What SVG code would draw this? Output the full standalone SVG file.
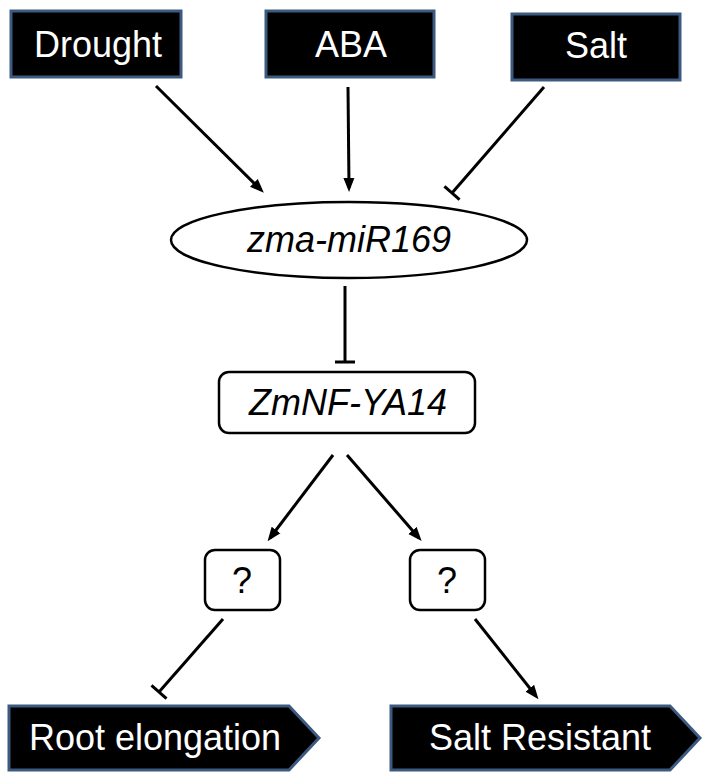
<svg xmlns="http://www.w3.org/2000/svg" width="707" height="780" viewBox="0 0 707 780">
<style>
.dark{fill:#000;stroke:#3c5a80;stroke-width:3}
.light{fill:#fff;stroke:#000;stroke-width:2.5}
.wt{fill:#fff;font-family:"Liberation Sans",Arial,sans-serif;font-size:36px;text-anchor:middle}
.bt{fill:#000;font-family:"Liberation Sans",Arial,sans-serif;font-size:36px;text-anchor:middle}
.it{font-style:italic}
.conn{stroke:#000;stroke-width:3;fill:none}
</style>
<defs>
<marker id="arrow" markerUnits="userSpaceOnUse" viewBox="0 0 14 12" markerWidth="14" markerHeight="12" refX="10" refY="6" orient="auto">
<path d="M0,0.5 L14,6 L0,11.5 z" fill="#000"/>
</marker>
<marker id="tbar" markerUnits="userSpaceOnUse" viewBox="-3 -11 6 22" markerWidth="6" markerHeight="22" refX="0" refY="0" orient="auto">
<rect x="-1.5" y="-10" width="3" height="20" fill="#000"/>
</marker>
</defs>
<g id="drought"><rect class="dark" x="11" y="11" width="170" height="66"/><text class="wt" x="98" y="57">Drought</text></g>
<g id="aba"><rect class="dark" x="266" y="11" width="168" height="66"/><text class="wt" x="351" y="57">ABA</text></g>
<g id="salt"><rect class="dark" x="512" y="14" width="168" height="66"/><text class="wt" x="596" y="58">Salt</text></g>
<g id="mir169"><ellipse class="light" cx="349" cy="240" rx="178" ry="38"/><text class="bt it" x="349" y="252">zma-miR169</text></g>
<g id="zmnf"><rect class="light" x="219" y="372" width="256" height="61" rx="10"/><text class="bt it" x="348" y="415">ZmNF-YA14</text></g>
<g id="q1"><rect class="light" x="205" y="550" width="75" height="60" rx="10"/><text class="bt" x="242" y="593">?</text></g>
<g id="q2"><rect class="light" x="410" y="550" width="75" height="60" rx="10"/><text class="bt" x="447" y="593">?</text></g>
<g id="root"><path class="dark" d="M9,706 L289,706 L319,738 L289,770 L9,770 z"/><text class="wt" x="155" y="750">Root elongation</text></g>
<g id="saltres"><path class="dark" d="M391,706 L670,706 L700,738 L670,770 L391,770 z"/><text class="wt" x="540" y="750">Salt Resistant</text></g>
<g id="connectors">
<line class="conn" x1="156" y1="86" x2="261" y2="190" marker-end="url(#arrow)"/>
<line class="conn" x1="348" y1="87" x2="349" y2="188" marker-end="url(#arrow)"/>
<line class="conn" x1="544" y1="87" x2="452" y2="193" marker-end="url(#tbar)"/>
<line class="conn" x1="345" y1="286" x2="345" y2="362" marker-end="url(#tbar)"/>
<line class="conn" x1="333" y1="455" x2="270" y2="538" marker-end="url(#arrow)"/>
<line class="conn" x1="347" y1="455" x2="419" y2="538" marker-end="url(#arrow)"/>
<line class="conn" x1="223" y1="619" x2="159" y2="692" marker-end="url(#tbar)"/>
<line class="conn" x1="475" y1="619" x2="536" y2="696" marker-end="url(#arrow)"/>
</g>
</svg>
